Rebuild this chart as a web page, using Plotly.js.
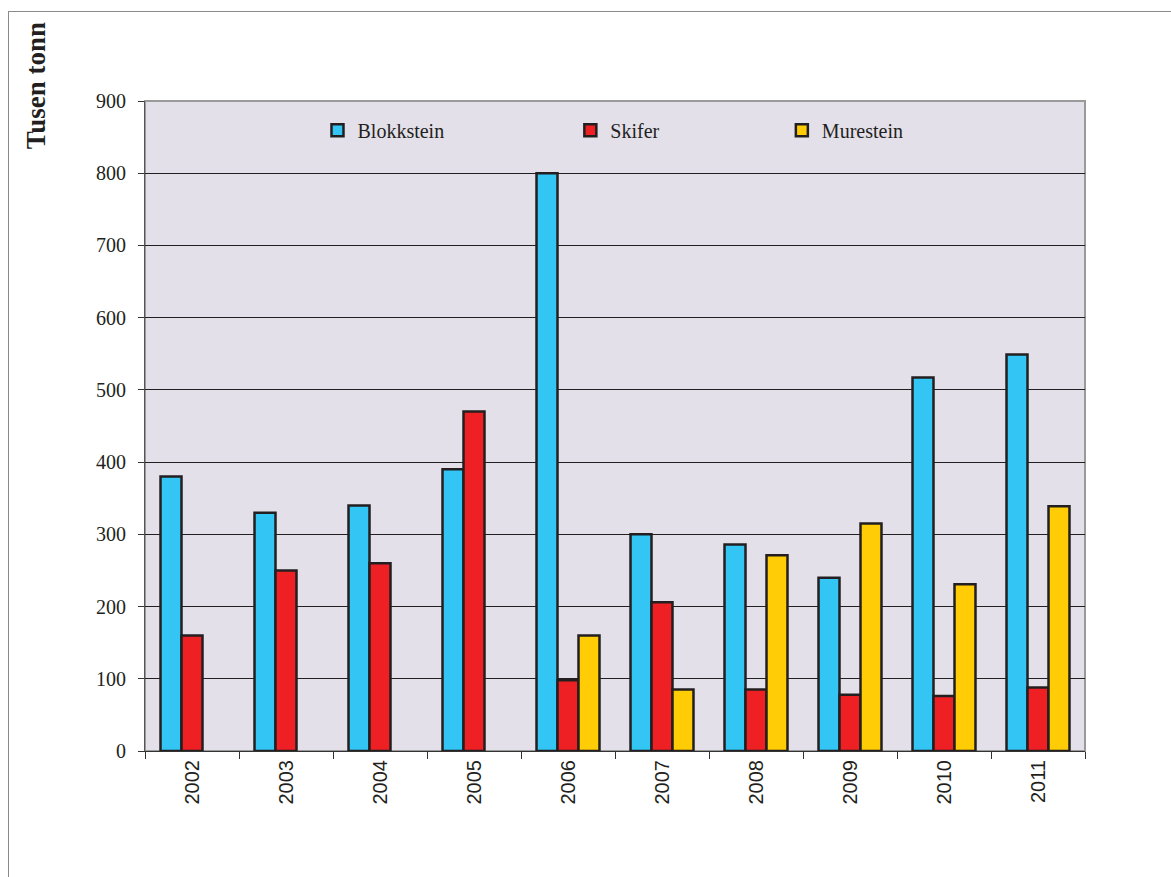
<!DOCTYPE html>
<html>
<head>
<meta charset="utf-8">
<script src="https://cdn.plot.ly/plotly-3.0.1.min.js"></script>
<style>
html,body{margin:0;padding:0;background:#fff;}
#frame{position:absolute;left:8px;top:11px;width:1163px;height:866px;border-left:1px solid #8a8a8a;border-top:1px solid #8a8a8a;}
#chart{position:absolute;left:0;top:0;width:1171px;height:877px;}
</style>
</head>
<body>
<div id="frame"></div>
<div id="chart"></div>
<script>
const years = ['2002','2003','2004','2005','2006','2007','2008','2009','2010','2011'];
const blokkstein = [380, 330, 340, 390, 800, 300, 286, 240, 517, 549];
const skifer = [160, 250, 260, 470, 98, 206, 85, 78, 76, 88];
const murestein = [null, null, null, null, 160, 85, 271, 315, 231, 339];
const seriesNames = ['Blokkstein', 'Skifer', 'Murestein'];
const seriesColors = ['#33C5F3', '#EE2024', '#FFCC05'];

const serif = 'Liberation Serif, Times New Roman, serif';
const sans = 'Liberation Sans, Arial, sans-serif';

const data = [blokkstein, skifer, murestein].map((vals, i) => ({
  type: 'bar',
  name: seriesNames[i],
  x: years,
  y: vals,
  legend: i === 0 ? 'legend' : 'legend' + (i + 1),
  marker: {color: seriesColors[i], line: {color: '#231F20', width: 2.5}},
  hoverinfo: 'x+y+name'
}));

const legendBase = {
  orientation: 'h', yanchor: 'middle', y: 0.955, xanchor: 'left',
  bgcolor: 'rgba(0,0,0,0)', borderwidth: 0,
  font: {family: serif, size: 20, color: '#231F20'},
  itemwidth: 30
};

const layout = {
  width: 1171, height: 877,
  margin: {l: 145, r: 86, t: 101, b: 126},
  paper_bgcolor: 'rgba(0,0,0,0)',
  plot_bgcolor: '#E4E0EA',
  barmode: 'group',
  bargap: 0.33,
  bargroupgap: 0,
  showlegend: true,
  legend: Object.assign({}, legendBase, {x: 0.1835}),
  legend2: Object.assign({}, legendBase, {x: 0.4525}),
  legend3: Object.assign({}, legendBase, {x: 0.6775}),
  xaxis: {
    type: 'category',
    tickson: 'boundaries',
    ticks: 'outside', ticklen: 7, tickwidth: 1, tickcolor: '#333',
    tickangle: -90,
    tickfont: {family: sans, size: 20, color: '#231F20'},
    showgrid: false,
    showline: true, linecolor: '#333', linewidth: 1,
    zeroline: false
  },
  yaxis: {
    range: [0, 900], dtick: 100, tick0: 0,
    ticks: 'outside', ticklen: 6, tickwidth: 1, tickcolor: '#333',
    tickfont: {family: serif, size: 20, color: '#231F20'},
    ticklabelstandoff: 8,
    showgrid: true, gridcolor: '#231F20', gridwidth: 1,
    showline: true, linecolor: '#555', linewidth: 1,
    zeroline: false
  },
  shapes: [{
    type: 'rect', xref: 'paper', yref: 'paper', x0: 0, x1: 1, y0: 0, y1: 1,
    line: {color: '#9a9a9a', width: 2}, fillcolor: 'rgba(0,0,0,0)', layer: 'below'
  }],
  annotations: [{
    text: '<b>Tusen tonn</b>', textangle: -90,
    xref: 'paper', yref: 'paper',
    x: -0.116, y: 1.024, xanchor: 'center', yanchor: 'middle',
    showarrow: false,
    font: {family: serif, size: 27, color: '#231F20'}
  }]
};

Plotly.newPlot('chart', data, layout, {displayModeBar: false, staticPlot: true});
</script>
</body>
</html>
